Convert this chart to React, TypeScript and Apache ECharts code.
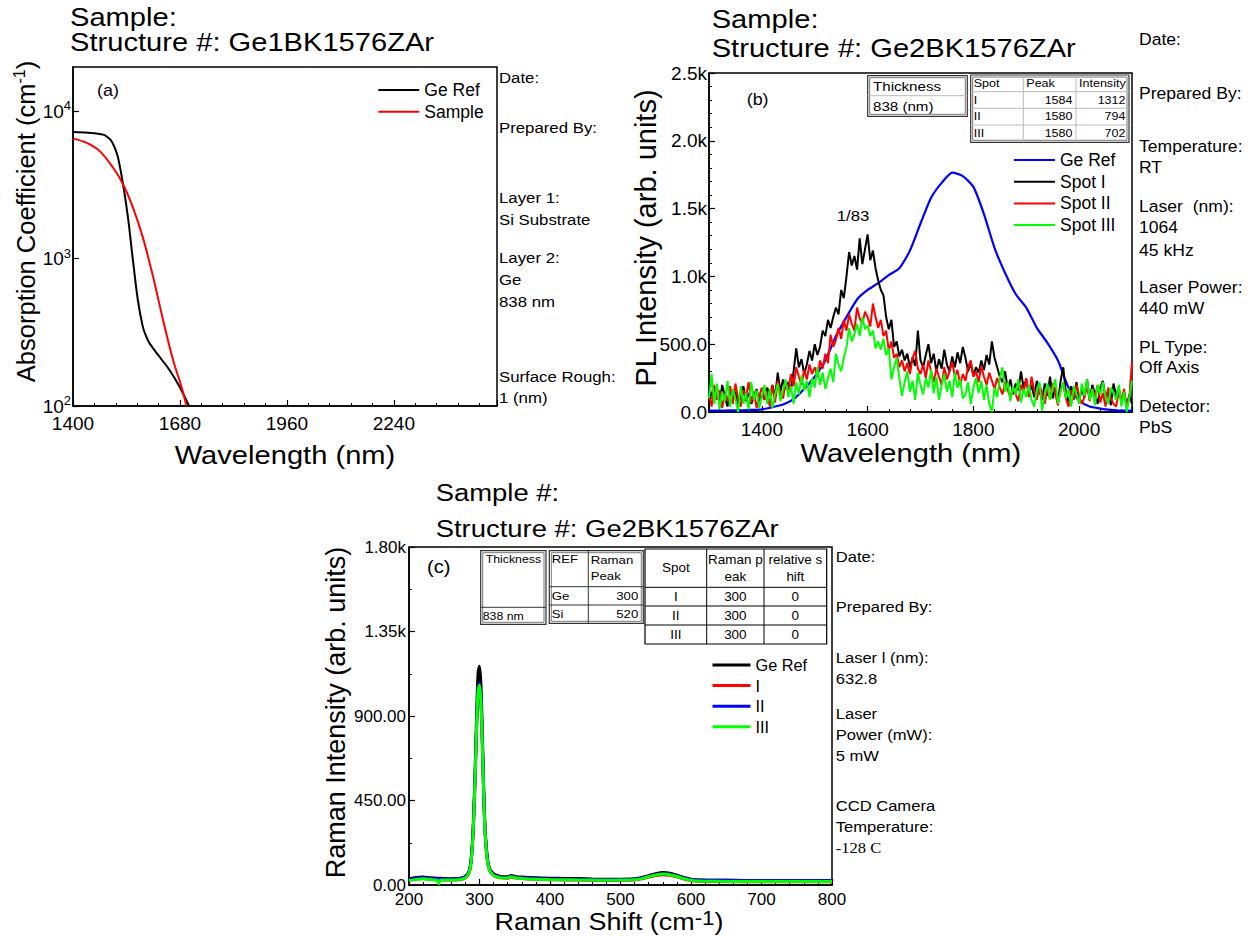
import React, { useEffect, useRef } from 'react';
import * as echarts from 'echarts';

// ---------------- DATA ----------------
// (a) Absorption coefficient vs wavelength
const absRefWl = [1400, 1440, 1479, 1490, 1501, 1510, 1518, 1531, 1544, 1557, 1570, 1583, 1592, 1601, 1627, 1653, 1679, 1704];
const absRefVal = [7240, 7150, 6950, 6700, 6270, 5600, 4840, 3200, 1900, 970, 520, 343, 295, 265, 215, 175, 135, 100];
const absSampleWl = [1400, 1436, 1470, 1505, 1531, 1557, 1583, 1610, 1636, 1662, 1684, 1697];
const absSampleVal = [6530, 6110, 5370, 4140, 3200, 2220, 1390, 748, 381, 205, 135, 100];
const absLegend = ['Ge Ref', 'Sample'];

// (b) PL spectra, spots sampled every 5 nm from 1300 nm
const PL_START = 1300;
const PL_STEP = 5;
const plSpotI = [
  60, 150, 90, 180, 60, 200, 110, 40, 170, 90, 150, 50, 120, 190, 80, 140, 60, 110, 170, 70, 130,
  90, 180, 120, 200, 110, 290, 150, 240, 170, 220, 160, 300, 470, 330, 390, 280, 350, 450, 380, 500,
  420, 480, 600, 560, 680, 620, 700, 770, 720, 900, 840, 1000, 1180, 1080, 1150, 1050, 1280, 1090, 1200, 1310,
  1120, 1190, 1060, 970, 900, 860, 700, 610, 680, 480, 520, 410, 460, 380, 430, 330, 400, 340, 600, 380,
  330, 420, 500, 360, 430, 300, 390, 320, 460, 350, 300, 410, 330, 440, 360, 480, 400, 300, 360, 270,
  330, 290, 380, 310, 420, 350, 520, 400, 330, 260, 220, 300, 170, 240, 130, 210, 160, 300, 180, 240,
  130, 200, 110, 230, 150, 90, 210, 120, 260, 100, 180, 70, 230, 330, 140, 60, 190, 120, 220, 80,
  170, 110, 240, 90, 200, 130, 60, 180, 230, 100, 160, 50, 210, 120, 180, 70, 150, 40, 130, 60,
];
const plSpotII = [
  120, 40, 200, 90, 160, 30, 140, 80, 190, 60, 210, 100, 40, 160, 110, 220, 70, 150, 30, 120, 180,
  90, 150, 40, 200, 70, 230, 140, 100, 210, 160, 280, 190, 330, 260, 200, 310, 240, 350, 280, 330,
  260, 380, 320, 430, 360, 570, 480, 530, 620, 540, 680, 600, 720, 650, 600, 770, 690, 650, 740, 700,
  630, 800, 700, 620, 680, 560, 600, 450, 520, 400, 430, 330, 380, 300, 360, 280, 400, 450, 320, 280,
  350, 250, 380, 300, 220, 320, 260, 200, 330, 240, 300, 370, 260, 310, 200, 280, 230, 330, 380, 260,
  300, 220, 340, 260, 200, 290, 230, 170, 250, 180, 130, 220, 160, 110, 190, 130, 80, 200, 140, 250,
  110, 260, 160, 90, 200, 140, 60, 180, 90, 210, 130, 50, 170, 200, 100, 40, 160, 90, 200, 120,
  60, 110, 190, 80, 170, 120, 200, 70, 140, 40, 180, 100, 60, 40, 150, 90, 170, 30, 110, 370,
];
const plSpotIII = [
  100, 280, 60, 210, 20, 150, 80, 230, 40, 170, 100, 0, 190, 60, 140, 20, 220, 90, 160, 30, 120,
  200, 60, 170, 30, 130, 210, 80, 160, 240, 110, 190, 60, 220, 130, 270, 160, 230, 110, 250, 180,
  330, 200, 290, 170, 250, 320, 220, 430, 350, 300, 400, 480, 620, 520, 570, 650, 560, 700, 610, 640,
  560, 600, 470, 520, 460, 540, 420, 470, 240, 330, 400, 250, 120, 220, 300, 150, 230, 90, 290, 200,
  130, 250, 180, 310, 140, 260, 90, 200, 280, 150, 230, 110, 290, 180, 240, 100, 130, 220, 60, 180,
  250, 140, 230, 90, 200, 60, 0, 180, 110, 250, 330, 150, 220, 80, 190, 130, 240, 70, 170, 110,
  200, 90, 40, 160, 220, 10, 130, 210, 90, 180, 240, 60, 150, 220, 100, 170, 40, 190, 130, 60,
  210, 120, 240, 90, 170, 50, 200, 130, 220, 110, 60, 180, 140, 90, 200, 40, 150, 0, 110, 230,
];
const plRefWl = [1300, 1320, 1340, 1360, 1380, 1400, 1420, 1440, 1460, 1480, 1500, 1520, 1540, 1560, 1580, 1600, 1620, 1640, 1660, 1680,
  1700, 1720, 1740, 1760, 1780, 1800, 1820, 1840, 1860, 1880, 1900, 1920, 1940, 1960, 1980, 2000, 2020, 2040, 2060, 2080, 2100];
const plRefVal = [10, 10, 12, 12, 15, 20, 35, 55, 95, 170, 260, 380, 560, 700, 830, 900, 950, 1010, 1060, 1190,
  1390, 1580, 1690, 1765, 1740, 1660, 1460, 1210, 1025, 870, 770, 620, 510, 380, 180, 85, 40, 25, 15, 10, 10];
const plLegend = ['Ge Ref', 'Spot I', 'Spot II', 'Spot III'];
const plThickness = ['Thickness', '838 (nm)'];
const plSpotTable = [['Spot', 'Peak', 'Intensity'], ['I', '1584', '1312'], ['II', '1580', '794'], ['III', '1580', '702']];
const plScaleNote = '1/83';

// (c) Raman spectra
const ramanShift = [200, 210, 220, 230, 240, 242, 245, 250, 260, 270, 275, 280, 285, 288, 291, 294, 296, 298, 300, 302,
  304, 306, 308, 311, 314, 318, 322, 330, 340, 345, 350, 360, 380, 400, 420, 440, 460, 480, 500, 520,
  530, 540, 550, 560, 570, 580, 590, 600, 610, 620, 650, 700, 750, 800];
const ramanRef = [32, 40, 42, 38, 36, 35, 36, 34, 33, 35, 38, 46, 72, 135, 310, 640, 920, 1130, 1165, 1070,
  820, 520, 300, 150, 90, 68, 55, 46, 44, 50, 46, 42, 38, 36, 35, 34, 32, 31, 31, 33,
  40, 50, 60, 66, 63, 52, 40, 31, 27, 26, 25, 24, 24, 23];
const ramanI = [26, 32, 34, 30, 28, 22, 28, 27, 27, 28, 31, 38, 62, 118, 280, 590, 850, 1030, 1060, 975,
  750, 470, 270, 135, 80, 58, 46, 38, 36, 42, 38, 34, 30, 28, 27, 26, 25, 24, 25, 27,
  33, 42, 50, 55, 52, 43, 32, 24, 20, 19, 18, 17, 17, 17];
const ramanII = [30, 36, 38, 35, 33, 30, 33, 32, 31, 33, 36, 43, 67, 125, 290, 605, 865, 1045, 1075, 990,
  760, 480, 278, 140, 84, 62, 50, 42, 40, 46, 42, 38, 34, 32, 31, 30, 29, 28, 29, 31,
  37, 46, 55, 60, 57, 47, 36, 29, 26, 25, 25, 24, 24, 24];
const ramanIII = [24, 30, 33, 29, 25, 6, 26, 26, 26, 28, 31, 39, 64, 120, 285, 595, 855, 1035, 1065, 980,
  752, 472, 272, 136, 81, 59, 47, 39, 37, 44, 39, 35, 31, 29, 28, 27, 26, 25, 26, 28,
  34, 44, 53, 58, 55, 45, 34, 25, 21, 20, 19, 18, 18, 18];
const ramanLegend = ['Ge Ref', 'I', 'II', 'III'];
const ramanThickness = ['Thickness', '838 nm'];
const ramanRefTable = [['REF', 'Raman\nPeak'], ['Ge', '300'], ['Si', '520']];
const ramanSpotTable = [['Spot', 'Raman p\neak', 'relative s\nhift'], ['I', '300', '0'], ['II', '300', '0'], ['III', '300', '0']];

// Titles and side notes
const titleA = ['Sample:', 'Structure #: Ge1BK1576ZAr'];
const titleB = ['Sample:', 'Structure #: Ge2BK1576ZAr'];
const titleC = ['Sample #:', 'Structure #: Ge2BK1576ZAr'];
const notesA = ['Date:', 'Prepared By:', 'Layer 1:', 'Si Substrate', 'Layer 2:', 'Ge', '838 nm', 'Surface Rough:', '1 (nm)'];
const notesB = ['Date:', 'Prepared By:', 'Temperature:', 'RT', 'Laser  (nm):', '1064', '45 kHz', 'Laser Power:', '440 mW', 'PL Type:', 'Off Axis', 'Detector:', 'PbS'];
const notesC = ['Date:', 'Prepared By:', 'Laser l (nm):', '632.8', 'Laser', 'Power (mW):', '5 mW', 'CCD Camera', 'Temperature:', '-128 C'];

// ---------------- LAYOUT / STYLE ----------------
const FONT = "'Liberation Sans', Arial, Helvetica, sans-serif";
const SERIF = "'Liberation Serif', 'Times New Roman', serif";
const SX = 1.12;
const notesAY = [78.3, 128.3, 198.3, 220, 258.3, 280, 301.7, 376.7, 398.3];
const notesBY = [40, 94.3, 146.7, 168.3, 207.3, 228.3, 250.7, 288.3, 309.3, 348.3, 368.3, 406.7, 428.3];
const notesCY = [557.3, 606.7, 658.3, 679.3, 714.3, 735, 756, 806, 826.7, 847.7];

function txt(x: number, y: number, text: string, size: number, o: any = {}) {
  const align = o.align ?? 'left';
  const valign = o.valign ?? 'middle';
  return {
    type: 'text', x, y, rotation: o.rot ?? 0, scaleX: o.sx ?? SX, scaleY: 1, silent: true, z: 100,
    style: {
      text, fontSize: size, fontFamily: o.family ?? FONT, fill: '#000',
      align, verticalAlign: valign, textAlign: align, textVerticalAlign: valign,
      lineHeight: o.lineHeight, rich: o.rich,
    },
  };
}

function tableFrame(cols: number[], rows: number[], outer: string, inner: string, dbl: boolean, z = 90) {
  const els: any[] = [];
  const x0 = cols[0], x1 = cols[cols.length - 1], y0 = rows[0], y1 = rows[rows.length - 1];
  els.push({ type: 'rect', z, silent: true, shape: { x: x0, y: y0, width: x1 - x0, height: y1 - y0 }, style: { fill: '#fff', stroke: outer, lineWidth: 1.2 } });
  if (dbl) {
    els.push({ type: 'rect', z: z + 1, silent: true, shape: { x: x0 + 2, y: y0 + 2, width: x1 - x0 - 4, height: y1 - y0 - 4 }, style: { fill: 'none', stroke: '#777', lineWidth: 1 } });
  }
  for (let i = 1; i < cols.length - 1; i++) {
    els.push({ type: 'line', z: z + 1, silent: true, shape: { x1: cols[i], y1: y0, x2: cols[i], y2: y1 }, style: { stroke: inner, lineWidth: 1 } });
  }
  for (let j = 1; j < rows.length - 1; j++) {
    els.push({ type: 'line', z: z + 1, silent: true, shape: { x1: x0, y1: rows[j], x2: x1, y2: rows[j] }, style: { stroke: inner, lineWidth: 1 } });
  }
  return els;
}

function pairs(xs: number[], ys: number[]) {
  return xs.map((x, i) => [x, ys[i]]);
}
function plPairs(ys: number[]) {
  return ys.map((y, i) => [PL_START + PL_STEP * i, y]);
}

function axisBase(size: number, margin: number) {
  return {
    axisLine: { show: true, onZero: false, lineStyle: { color: '#000', width: 1.5 } },
    axisTick: { show: true, inside: true, length: 6, lineStyle: { color: '#000', width: 1.2 } },
    minorTick: { show: true, length: 3, lineStyle: { color: '#000', width: 1 } },
    splitLine: { show: false },
    minorSplitLine: { show: false },
    axisLabel: { color: '#000', fontSize: size, fontFamily: FONT, margin, formatter: (v: number) => String(v) },
  };
}

function buildOption() {
  const g: any[] = [];
  // titles
  g.push(txt(70, 17, titleA[0], 26), txt(70, 42, titleA[1], 26));
  g.push(txt(711.7, 19.5, titleB[0], 26), txt(711.7, 48.5, titleB[1], 26));
  g.push(txt(435.7, 493, titleC[0], 24.5), txt(435.7, 529, titleC[1], 24.5));
  // notes
  notesA.forEach((t, i) => g.push(txt(499, notesAY[i], t, 15)));
  notesB.forEach((t, i) => g.push(txt(1139, notesBY[i], t, 15.7)));
  notesC.forEach((t, i) => g.push(txt(835.7, notesCY[i], t, 14.8, i === notesC.length - 1 ? { family: SERIF } : {})));
  // axis titles
  g.push(txt(285, 455, 'Wavelength (nm)', 26, { align: 'center' }));
  g.push(txt(910.8, 453.3, 'Wavelength (nm)', 26, { align: 'center' }));
  g.push(txt(609, 921.7, '{m|Raman Shift (cm}{s|-1}{m|)}', 24, {
    align: 'center',
    rich: {
      m: { fontSize: 24, fontFamily: FONT, fill: '#000', lineHeight: 28 },
      s: { fontSize: 20, fontFamily: FONT, fill: '#000', lineHeight: 24, verticalAlign: 'top' },
    },
  }));
  g.push(txt(26, 221.5, '{m|Absorption Coefficient (cm}{s|-1}{m|)}', 25.5, {
    align: 'center', rot: Math.PI / 2, sx: 1,
    rich: {
      m: { fontSize: 25.5, fontFamily: FONT, fill: '#000', lineHeight: 30 },
      s: { fontSize: 16, fontFamily: FONT, fill: '#000', lineHeight: 16, verticalAlign: 'top' },
    },
  }));
  g.push(txt(646, 238, 'PL Intensity (arb. units)', 29, { align: 'center', rot: Math.PI / 2, sx: 1 }));
  g.push(txt(335.5, 712.5, 'Raman Intensity (arb. units)', 27, { align: 'center', rot: Math.PI / 2, sx: 1 }));
  // panel labels
  g.push(txt(97, 90.7, '(a)', 16), txt(746.7, 100, '(b)', 16), txt(427, 566.7, '(c)', 18));
  g.push(txt(836.7, 216, plScaleNote, 15));

  // (b) tables
  g.push(...tableFrame([867.7, 967.3], [75.7, 95.7, 116.3], '#333', '#bbb', true));
  g.push(txt(873, 86, plThickness[0], 13.5), txt(873, 106.5, plThickness[1], 13.5));
  const bCols = [970.7, 1023.3, 1076, 1129];
  const bRows = [75, 91.7, 108.3, 125, 142.3];
  g.push(...tableFrame(bCols, bRows, '#333', '#bbb', true));
  plSpotTable.forEach((row, r) => {
    const yc = (bRows[r] + bRows[r + 1]) / 2;
    row.forEach((cell, c) => {
      if (r === 0 || c === 0) g.push(txt(bCols[c] + 3, yc, cell, 11.2));
      else g.push(txt(bCols[c + 1] - 3.5, yc, cell, 11.2, { align: 'right' }));
    });
  });

  // (c) tables
  g.push(...tableFrame([480.7, 546], [550.7, 607.3, 624.3], '#333', '#333', true));
  g.push(txt(513.4, 559, ramanThickness[0], 11, { align: 'center' }));
  g.push(txt(482.7, 616, ramanThickness[1], 11));
  const rCols = [549.3, 588.3, 643.3];
  const rRows = [550.7, 586.7, 605, 623.3];
  g.push(...tableFrame(rCols, rRows, '#333', '#333', true));
  g.push(txt(551.7, 559.5, ramanRefTable[0][0], 11.8));
  g.push(txt(590.7, 568, ramanRefTable[0][1], 11.8, { lineHeight: 16 }));
  for (let r = 1; r < ramanRefTable.length; r++) {
    const yc = (rRows[r] + rRows[r + 1]) / 2;
    g.push(txt(551.7, yc, ramanRefTable[r][0], 11.8));
    g.push(txt(638.3, yc, ramanRefTable[r][1], 11.8, { align: 'right' }));
  }
  const sCols = [645, 706.7, 764, 826.7];
  const sRows = [549, 587.3, 606, 625, 644];
  g.push(...tableFrame(sCols, sRows, '#000', '#000', false));
  ramanSpotTable.forEach((row, r) => {
    const yc = (sRows[r] + sRows[r + 1]) / 2;
    row.forEach((cell, c) => {
      g.push(txt((sCols[c] + sCols[c + 1]) / 2, yc, cell, 12, { align: 'center', lineHeight: 16.5 }));
    });
  });

  const gridBase = { show: true, borderColor: '#000', borderWidth: 1.5, backgroundColor: 'transparent', containLabel: false, outerBoundsMode: 'none' };

  const legendBase = (left: number, top: number, itemWidth: number, itemHeight: number, fontSize: number, lh: number, gap: number, names: string[]) => ({
    data: names, left, top, orient: 'vertical', itemWidth, itemHeight, itemGap: gap, padding: 0,
    icon: 'rect', selectedMode: false, formatter: (n: string) => n.split('|')[1],
    textStyle: { fontSize, fontFamily: FONT, color: '#000', lineHeight: lh },
  });

  const line = (name: string, xi: number, data: any[], color: string, width: number, extra: any = {}) => ({
    name, type: 'line', xAxisIndex: xi, yAxisIndex: xi, data, symbol: 'none', showSymbol: false,
    lineStyle: { color, width }, itemStyle: { color }, emphasis: { disabled: true }, ...extra,
  });

  return {
    animation: false,
    backgroundColor: '#fff',
    textStyle: { fontFamily: FONT },
    grid: [
      { ...gridBase, left: 73, top: 67, width: 424, height: 339 },
      { ...gridBase, left: 709, top: 73, width: 423, height: 339 },
      { ...gridBase, left: 409, top: 547, width: 423, height: 338 },
    ],
    xAxis: [
      (() => { const b: any = axisBase(19, 8); return { ...b, type: 'value', gridIndex: 0, min: 1400, max: 2510, interval: 280, minorTick: { ...b.minorTick, splitNumber: 5 }, axisLabel: { ...b.axisLabel, showMaxLabel: false } }; })(),
      (() => { const b: any = axisBase(19, 8); return { ...b, type: 'value', gridIndex: 1, min: 1300, max: 2100, splitNumber: 4, minorTick: { ...b.minorTick, splitNumber: 5 }, axisLabel: { ...b.axisLabel, showMinLabel: false, showMaxLabel: false } }; })(),
      (() => { const b: any = axisBase(17, 6); return { ...b, type: 'value', gridIndex: 2, min: 200, max: 800, interval: 100, minorTick: { ...b.minorTick, splitNumber: 5 } }; })(),
    ],
    yAxis: [
      (() => {
        const b: any = axisBase(19, 2);
        return {
          ...b, type: 'log', logBase: 10, gridIndex: 0, min: 100, max: 20000,
          minorTick: { show: false },
          axisLabel: {
            ...b.axisLabel, showMaxLabel: false,
            formatter: (v: number) => `{b|10}{s|${Math.round(Math.log10(v))}}`,
            rich: {
              b: { fontSize: 19, fontFamily: FONT, color: '#000', lineHeight: 24 },
              s: { fontSize: 13, fontFamily: FONT, color: '#000', lineHeight: 13, verticalAlign: 'top' },
            },
          },
        };
      })(),
      (() => {
        const b: any = axisBase(19, 2);
        return {
          ...b, type: 'value', gridIndex: 1, min: 0, max: 2500, interval: 500,
          minorTick: { ...b.minorTick, splitNumber: 5 },
          axisLabel: { ...b.axisLabel, formatter: (v: number) => (v < 1000 ? v.toFixed(1) : (v / 1000).toFixed(1) + 'k') },
        };
      })(),
      (() => {
        const b: any = axisBase(17, 3);
        return {
          ...b, type: 'value', gridIndex: 2, min: 0, max: 1800, interval: 450,
          minorTick: { ...b.minorTick, splitNumber: 2 },
          axisLabel: { ...b.axisLabel, formatter: (v: number) => (v < 1000 ? v.toFixed(2) : (v / 1000).toFixed(2) + 'k') },
        };
      })(),
    ],
    legend: [
      legendBase(378.3, 81, 41, 2, 17.5, 18, 3.7, absLegend.map((n) => 'a|' + n)),
      legendBase(1014, 151, 41, 2, 17.5, 18, 3.7, plLegend.map((n) => 'b|' + n)),
      legendBase(712.5, 656.5, 38, 3, 16.3, 17, 3.6, ramanLegend.map((n) => 'c|' + n)),
    ],
    series: [
      line('a|' + absLegend[0], 0, pairs(absRefWl, absRefVal), '#000000', 2, { smooth: 0.35 }),
      line('a|' + absLegend[1], 0, pairs(absSampleWl, absSampleVal), '#ff0000', 2, { smooth: 0.35 }),
      line('b|' + plLegend[0], 1, pairs(plRefWl, plRefVal), '#0000ff', 2.2, { smooth: 0.2 }),
      line('b|' + plLegend[1], 1, plPairs(plSpotI), '#000000', 2),
      line('b|' + plLegend[2], 1, plPairs(plSpotII), '#ff0000', 2),
      line('b|' + plLegend[3], 1, plPairs(plSpotIII), '#00ff00', 2),
      line('c|' + ramanLegend[0], 2, pairs(ramanShift, ramanRef), '#000000', 3, { smooth: 0.3 }),
      line('c|' + ramanLegend[1], 2, pairs(ramanShift, ramanI), '#ff0000', 3, { smooth: 0.3 }),
      line('c|' + ramanLegend[2], 2, pairs(ramanShift, ramanII), '#0000ff', 3, { smooth: 0.3 }),
      line('c|' + ramanLegend[3], 2, pairs(ramanShift, ramanIII), '#00ff00', 3, { smooth: 0.3 }),
    ],
    graphic: g,
  };
}

export default function App() {
  const ref = useRef<HTMLDivElement>(null);
  useEffect(() => {
    if (!ref.current) return;
    const chart = echarts.init(ref.current, null, { renderer: 'svg' });
    chart.setOption(buildOption() as any);
    return () => chart.dispose();
  }, []);
  return <div ref={ref} style={{ position: 'absolute', left: 0, top: 0, width: 1252, height: 937, background: '#fff' }} />;
}
